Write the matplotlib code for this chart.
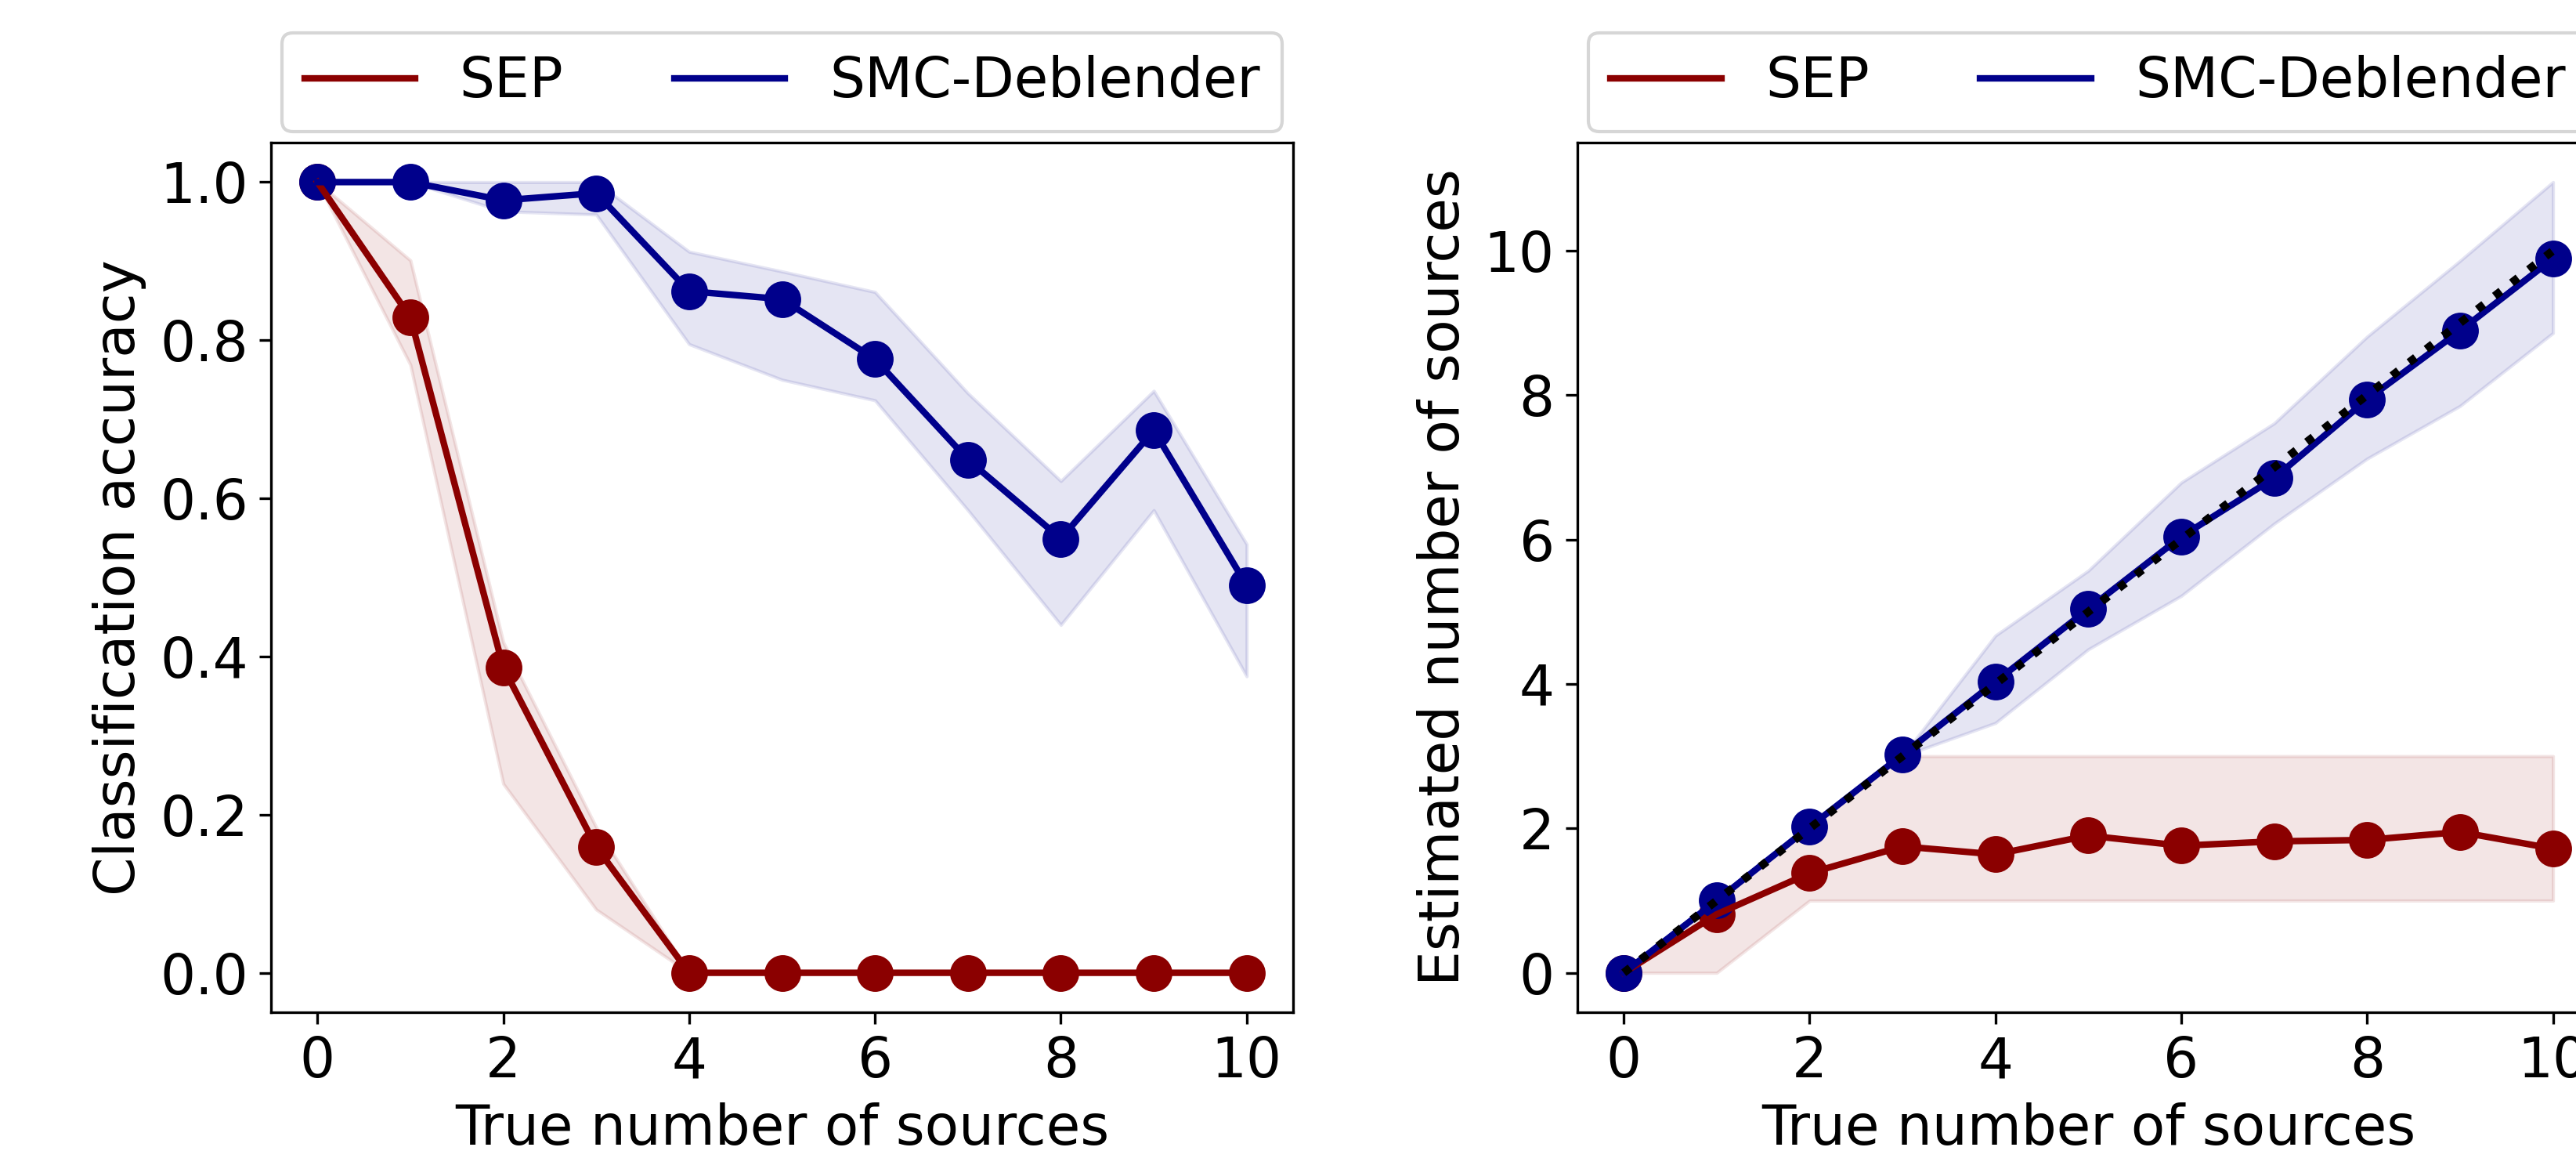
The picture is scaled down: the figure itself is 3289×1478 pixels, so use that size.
import numpy as np
import matplotlib
matplotlib.use('Agg')
import matplotlib.pyplot as plt

plt.rcParams['font.size'] = 17

n_true = np.arange(0, 11)

# classification accuracy
acc_sep = [1.0, 0.829, 0.386, 0.159, 0.0, 0.0, 0.0, 0.0, 0.0, 0.0, 0.0]
acc_sep_lo = [1.0, 0.769, 0.239, 0.080, 0.0, 0.0, 0.0, 0.0, 0.0, 0.0, 0.0]
acc_sep_hi = [1.0, 0.901, 0.418, 0.184, 0.0, 0.0, 0.0, 0.0, 0.0, 0.0, 0.0]
acc_smc = [1.0, 1.0, 0.977, 0.986, 0.862, 0.852, 0.776, 0.649, 0.549, 0.686, 0.490]
acc_smc_lo = [1.0, 1.0, 0.963, 0.959, 0.795, 0.750, 0.724, 0.585, 0.440, 0.585, 0.375]
acc_smc_hi = [1.0, 1.0, 1.0, 1.0, 0.912, 0.887, 0.861, 0.733, 0.622, 0.736, 0.542]

# estimated number of sources
est_sep = [0.0, 0.81, 1.38, 1.75, 1.64, 1.90, 1.76, 1.82, 1.84, 1.95, 1.72]
est_sep_lo = [0, 0, 1, 1, 1, 1, 1, 1, 1, 1, 1]
est_sep_hi = [0, 1, 2, 3, 3, 3, 3, 3, 3, 3, 3]
est_smc = [0.0, 1.00, 2.02, 3.02, 4.03, 5.04, 6.04, 6.85, 7.94, 8.89, 9.89]
est_smc_lo = [0.0, 1.0, 2.0, 3.0, 3.46, 4.48, 5.22, 6.22, 7.12, 7.85, 8.86]
est_smc_hi = [0.0, 1.0, 2.0, 3.0, 4.67, 5.57, 6.79, 7.61, 8.81, 9.86, 10.95]

sep_color = 'darkred'
smc_color = 'darkblue'


def draw_panel(ax, sep, sep_lo, sep_hi, smc, smc_lo, smc_hi, ylabel):
	ax.fill_between(n_true, sep_lo, sep_hi, color=sep_color, alpha=0.1)
	ax.fill_between(n_true, smc_lo, smc_hi, color=smc_color, alpha=0.1)
	ax.scatter(n_true, sep, color=sep_color, s=105)
	ax.scatter(n_true, smc, color=smc_color, s=105)
	ax.plot(n_true, sep, color=sep_color, lw=2, label='SEP')
	ax.plot(n_true, smc, color=smc_color, lw=2, label='SMC-Deblender')
	ax.set_xlabel('True number of sources')
	ax.set_ylabel(ylabel)
	ax.set_xticks([0, 2, 4, 6, 8, 10])
	ax.legend(bbox_to_anchor=(0, 1.0, 1, 0.2), loc='lower left', mode='expand',
		ncol=2, borderaxespad=0.2)


fig = plt.figure(figsize=(3289 / 300, 1478 / 300))
ax1 = fig.add_axes([0.1052, 0.1258, 0.3968, 0.7511])
ax2 = fig.add_axes([0.6123, 0.1258, 0.3968, 0.7511])

draw_panel(ax1, acc_sep, acc_sep_lo, acc_sep_hi, acc_smc, acc_smc_lo, acc_smc_hi,
	'Classification accuracy')
draw_panel(ax2, est_sep, est_sep_lo, est_sep_hi, est_smc, est_smc_lo, est_smc_hi,
	'Estimated number of sources')
ax2.plot(n_true, n_true, color='black', ls=':', lw=2.5)

fig.savefig('out.png', dpi=300)
